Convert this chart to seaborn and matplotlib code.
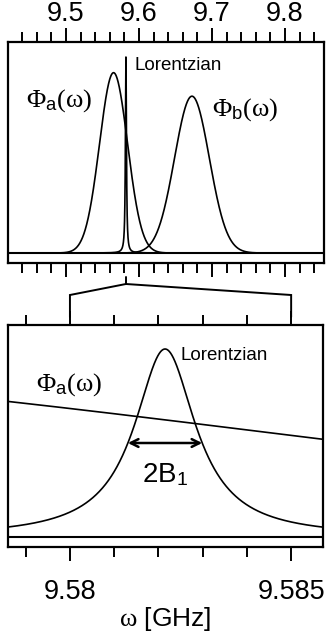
import numpy as np
import pandas as pd
import seaborn as sns
import matplotlib
matplotlib.use("Agg")
import matplotlib.pyplot as plt
from matplotlib.lines import Line2D
from matplotlib.ticker import MultipleLocator, FixedLocator

# Line-shape parameters (GHz): two Gaussian cavity responses and a narrow Lorentzian
phi_names = ["Phi_a", "Phi_b", "Lorentzian"]
centers = [9.5652, 9.6726, 9.58215]
widths = [0.0192, 0.0238, 0.00084]   # sigma for Gaussians, half width B1 for the Lorentzian
amplitudes = [0.92, 0.80, 1.0]

top_range = [9.4206, 9.8535]
zoom_range = [9.5786, 9.58572]
top_major = [9.5, 9.6, 9.7, 9.8]
zoom_major = [9.58, 9.585]
zoom_labels = ["9.58", "9.585"]


def gaussian(x, c, s, a):
    return a * np.exp(-0.5 * ((x - c) / s) ** 2)


def lorentzian(x, c, g, a):
    return a / (1.0 + ((x - c) / g) ** 2)


def profiles(x):
    rows = []
    for name, c, w, a in zip(phi_names, centers, widths, amplitudes):
        y = lorentzian(x, c, w, a) if name == "Lorentzian" else gaussian(x, c, w, a)
        rows.append(pd.DataFrame({"omega": x, "value": y, "curve": name}))
    return pd.concat(rows, ignore_index=True)


sns.set_theme(style="ticks")
plt.rcParams["font.family"] = ["Liberation Sans", "DejaVu Sans"]
plt.rcParams["text.color"] = "black"
plt.rcParams["axes.labelcolor"] = "black"
plt.rcParams["xtick.color"] = "black"
plt.rcParams["xtick.labelcolor"] = "black"
plt.rcParams["mathtext.fontset"] = "custom"
plt.rcParams["mathtext.rm"] = "Liberation Serif"
plt.rcParams["mathtext.it"] = "Liberation Serif"
plt.rcParams["mathtext.sf"] = "Liberation Sans"

W, H = 329, 637
fig = plt.figure(figsize=(W / 100, H / 100), dpi=100)
fig.patch.set_facecolor("white")

ax_top = fig.add_axes([8 / W, 1 - 263 / H, 316 / W, 221 / H])
ax_bot = fig.add_axes([8 / W, 1 - 547 / H, 315 / W, 222 / H])

x_top = np.linspace(top_range[0], top_range[1], 40001)
x_bot = np.linspace(zoom_range[0], zoom_range[1], 2001)
df_top = profiles(x_top)
df_bot = profiles(x_bot)

for ax, df in ((ax_top, df_top), (ax_bot, df_bot)):
    sns.lineplot(data=df, x="omega", y="value", units="curve", estimator=None,
                 color="black", lw=1.2, sort=False, ax=ax, legend=False)
    ax.axhline(0, color="black", lw=1.5)
    ax.set_xlabel("")
    ax.set_ylabel("")
    ax.set_yticks([])
    for sp in ax.spines.values():
        sp.set_visible(True)
        sp.set_linewidth(1.6)
        sp.set_color("black")
    ax.tick_params(axis="x", which="both", direction="out", color="black",
                   width=1.4, top=True, bottom=True, labelsize=19.5,
                   labelcolor="black")
    ax.tick_params(axis="x", which="major", length=10)
    ax.tick_params(axis="x", which="minor", length=7)

# Wide view
ax_top.set_xlim(*top_range)
ax_top.set_ylim(-10 / 196, 211 / 196)
ax_top.xaxis.set_major_locator(FixedLocator(top_major))
ax_top.xaxis.set_minor_locator(MultipleLocator(0.02))
ax_top.set_xticklabels([f"{v:.1f}" for v in top_major])
ax_top.tick_params(axis="x", which="both", labeltop=True, labelbottom=False, pad=0.5)

ax_top.text(9.5945, 0.959, "Lorentzian", fontsize=13.5, ha="left", va="center")
ax_top.text(9.4911, 0.78, r"$\Phi_{\mathsf{a}}(\mathrm{\omega})$", fontsize=19,
            ha="center", va="center")
ax_top.text(9.7459, 0.73, r"$\Phi_{\mathsf{b}}(\mathrm{\omega})$", fontsize=19,
            ha="center", va="center")

# Zoomed view around the Lorentzian
ax_bot.set_xlim(*zoom_range)
ax_bot.set_ylim(-10 / 188, 212 / 188)
ax_bot.xaxis.set_major_locator(FixedLocator(zoom_major))
ax_bot.xaxis.set_minor_locator(MultipleLocator(0.001))
ax_bot.set_xticklabels(zoom_labels)
ax_bot.tick_params(axis="x", which="both", labeltop=False, labelbottom=True, pad=13)
ax_bot.set_xlabel(r"$\mathrm{\omega}$ [GHz]", fontsize=19, labelpad=0)

c_l, b1, a_l = centers[2], widths[2], amplitudes[2]
ax_bot.annotate("", xy=(c_l - b1, a_l / 2), xytext=(c_l + b1, a_l / 2),
                arrowprops=dict(arrowstyle="<->", lw=1.8, color="black",
                                mutation_scale=14, shrinkA=0, shrinkB=0))
ax_bot.text(c_l, 0.33, r"2B$_\mathsf{1}$", fontsize=20, ha="center", va="center")
ax_bot.text(9.58249, 0.968, "Lorentzian", fontsize=13.5, ha="left", va="center")
ax_bot.text(9.57999, 0.81, r"$\Phi_{\mathsf{a}}(\mathrm{\omega})$", fontsize=19,
            ha="center", va="center")

# Bracket linking the Lorentzian in the wide view to the zoomed window
to_fig = fig.transFigure.inverted()
x_src = ax_top.transData.transform((c_l, 0))[0]
y_src_top = ax_top.transAxes.transform((0, 0))[1] - 14
y_src_knee = y_src_top - 7
y_arm = y_src_top - 18
y_end = ax_bot.transAxes.transform((0, 1))[1] + 8
x_left = ax_bot.transData.transform((zoom_major[0], 0))[0]
x_right = ax_bot.transData.transform((zoom_major[1], 0))[0]

pts = [
    [(x_src, y_src_top), (x_src, y_src_knee)],
    [(x_src, y_src_knee), (x_left, y_arm), (x_left, y_end)],
    [(x_src, y_src_knee), (x_right, y_arm), (x_right, y_end)],
]
for seg in pts:
    f = to_fig.transform(np.array(seg))
    fig.add_artist(Line2D(f[:, 0], f[:, 1], transform=fig.transFigure,
                          color="black", lw=1.4, solid_joinstyle="miter"))

fig.savefig("out.png", dpi=100, facecolor="white")
